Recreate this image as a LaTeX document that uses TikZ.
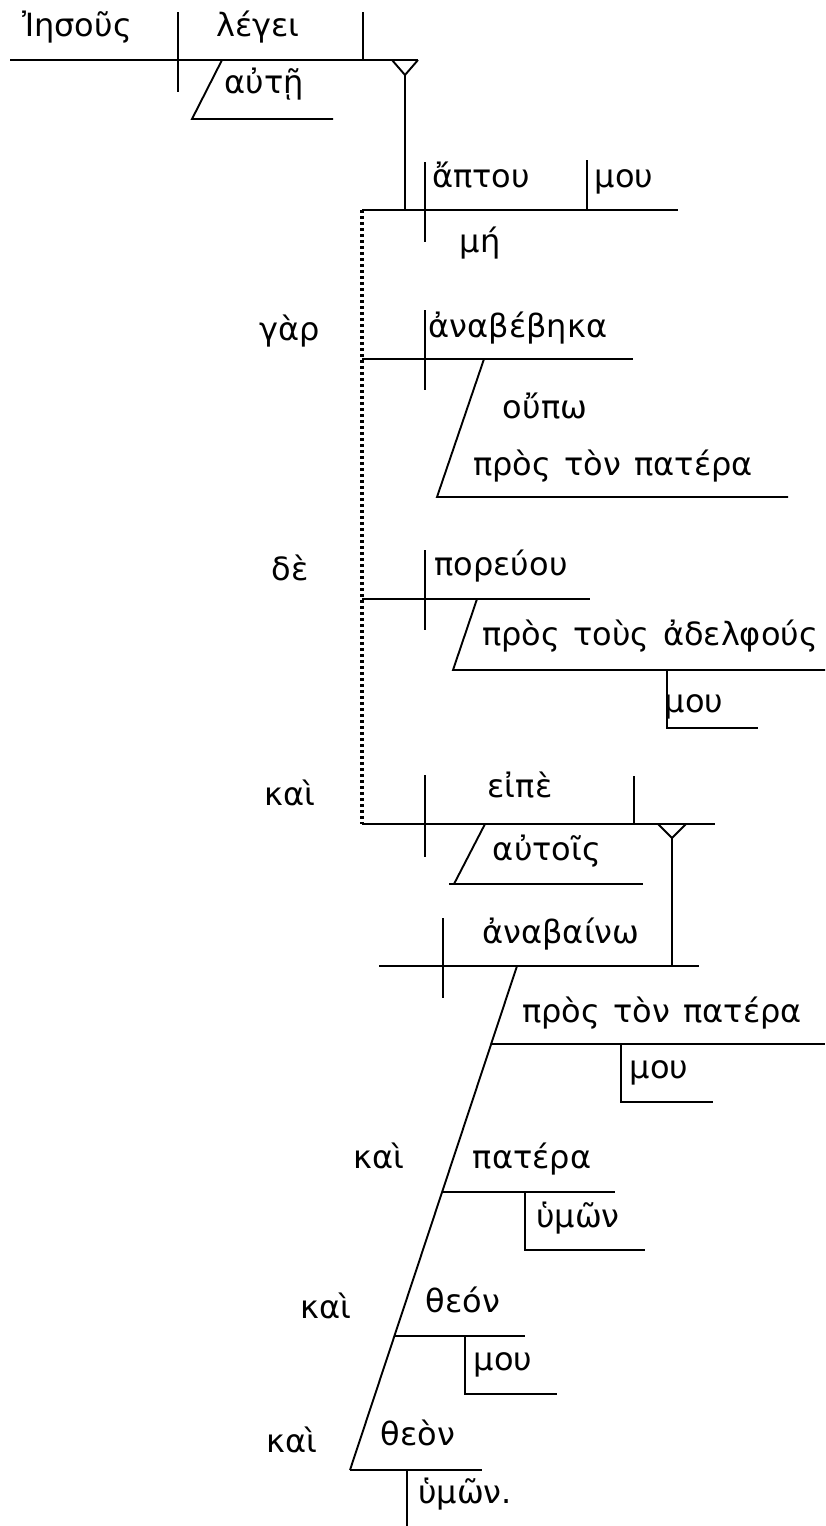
\documentclass[tikz,border=0pt]{standalone}
\usepackage{fontspec}
\setmainfont{DejaVu Sans}
\newcommand\wdfont{\fontsize{32}{38}\selectfont\spaceskip=0.42em\relax}
\begin{document}
\begin{tikzpicture}[x=1pt,y=-1pt,line width=1.8pt,
  ln/.style={draw=black,line width=1.9pt},
  dots/.style={draw=black,line width=3.5pt,dash pattern=on 3pt off 3pt},
  wd/.style={anchor=base,inner sep=0pt,font=\wdfont}]
\useasboundingbox (0,0) rectangle (825,1526);
% clause 1
\draw[ln] (10,60) -- (418,60);
\draw[ln] (178,12) -- (178,92);
\draw[ln] (363,12) -- (363,60);
\draw[ln] (392,60) -- (405,75) -- (418,60);
\draw[ln] (405,75) -- (405,210);
\draw[ln] (222,60) -- (192,119) -- (333,119);
\node[wd] (w1) at (77,36) {Ἰησοῦς};
\node[wd] (w2) at (258,36) {λέγει};
\node[wd] (w3) at (264,93) {αὐτῇ};
% clause 2
\draw[ln] (362,210) -- (678,210);
\draw[ln] (425,162) -- (425,242);
\draw[ln] (587,160) -- (587,210);
\node[wd] (w4) at (481,187) {ἄπτου};
\node[wd] (w5) at (624,187) {μου};
\node[wd] (w6) at (480,252) {μή};
% dotted connector
\draw[dots] (362,210) -- (362,824);
% clause 3
\draw[ln] (362,359) -- (633,359);
\draw[ln] (425,310) -- (425,390);
\draw[ln] (484,359) -- (437,497) -- (788,497);
\node[wd] (w7) at (290,340) {γὰρ};
\node[wd] (w8) at (518,337) {ἀναβέβηκα};
\node[wd] (w9) at (545,418) {οὔπω};
\node[wd] (w10) at (613,475) {πρὸς τὸν πατέρα};
% clause 4
\draw[ln] (362,599) -- (590,599);
\draw[ln] (425,550) -- (425,630);
\draw[ln] (477,599) -- (453,670) -- (825,670);
\draw[ln] (667,670) -- (667,728) -- (758,728);
\node[wd] (w11) at (290,580) {δὲ};
\node[wd] (w12) at (501,575) {πορεύου};
\node[wd] (w13) at (650,645) {πρὸς τοὺς ἀδελφούς};
\node[wd] (w14) at (694,712) {μου};
% clause 5
\draw[ln] (362,824) -- (715,824);
\draw[ln] (425,775) -- (425,857);
\draw[ln] (634,776) -- (634,824);
\draw[ln] (658,824) -- (672,838) -- (686,824);
\draw[ln] (672,838) -- (672,966);
\draw[ln] (485,824) -- (454,884);
\draw[ln] (449,884) -- (643,884);
\node[wd] (w15) at (290,805) {καὶ};
\node[wd] (w16) at (520,797) {εἰπὲ};
\node[wd] (w17) at (547,860) {αὐτοῖς};
% clause 6
\draw[ln] (379,966) -- (699,966);
\draw[ln] (443,918) -- (443,998);
\draw[ln] (517,966) -- (350,1470);
\node[wd] (w18) at (561,943) {ἀναβαίνω};
\draw[ln] (492,1044) -- (825,1044);
\draw[ln] (621,1044) -- (621,1102) -- (713,1102);
\node[wd] (w19) at (662,1022) {πρὸς τὸν πατέρα};
\node[wd] (w20) at (659,1078) {μου};
\draw[ln] (442,1192) -- (615,1192);
\draw[ln] (525,1192) -- (525,1250) -- (645,1250);
\node[wd] (w21) at (379,1168) {καὶ};
\node[wd] (w22) at (532,1168) {πατέρα};
\node[wd] (w23) at (578,1227) {ὑμῶν};
\draw[ln] (395,1336) -- (525,1336);
\draw[ln] (465,1336) -- (465,1394) -- (557,1394);
\node[wd] (w24) at (326,1318) {καὶ};
\node[wd] (w25) at (463,1312) {θεόν};
\node[wd] (w26) at (503,1370) {μου};
\draw[ln] (350,1470) -- (482,1470);
\draw[ln] (407,1470) -- (407,1526);
\node[wd] (w27) at (292,1452) {καὶ};
\node[wd] (w28) at (418,1445) {θεὸν};
\node[wd] (w29) at (465,1503) {ὑμῶν.};
\end{tikzpicture}
\end{document}
